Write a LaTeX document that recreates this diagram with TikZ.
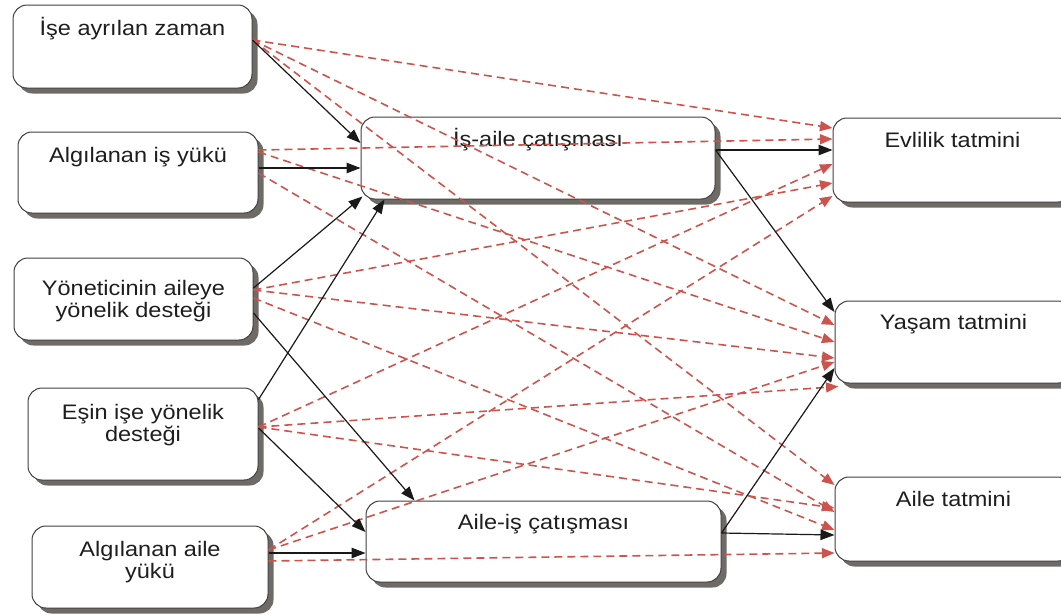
\documentclass[tikz,border=0pt]{standalone}
\usepackage{fontspec}
\setmainfont{Liberation Sans}[FakeStretch=1.12]
\usetikzlibrary{arrows.meta,shadows}
\definecolor{dred}{RGB}{205,84,76}
\definecolor{shad}{RGB}{110,106,102}
\definecolor{txtc}{RGB}{30,30,30}
\begin{document}
\begin{tikzpicture}[x=1pt,y=-1pt,
  box/.style={draw=black!75, line width=1pt, fill=white, rounded corners=14pt,
    inner sep=0pt, drop shadow={shadow xshift=5.5pt, shadow yshift=-5.5pt, fill=shad, opacity=1}},
  txt/.style={font=\fontsize{21}{22}\selectfont, text=txtc, align=center, inner sep=0pt},
  blk/.style={draw=black!90, line width=1.2pt, -{Triangle[length=14pt,width=10.5pt]}},
  rdash/.style={draw=dred, line width=1.6pt, dash pattern=on 8pt off 5pt,
    -{Triangle[length=12.5pt,width=10pt,fill=dred]}}]
\useasboundingbox (0,0) rectangle (1061,614);
% boxes
\node[box, minimum width=239pt, minimum height=83pt] (b1) at (132.5,46.5) {};
\node[box, minimum width=240pt, minimum height=81pt] (b2) at (138,172.5) {};
\node[box, minimum width=239pt, minimum height=82pt] (b3) at (133.5,299) {};
\node[box, minimum width=230pt, minimum height=92pt] (b4) at (143,434) {};
\node[box, minimum width=236pt, minimum height=82pt] (b5) at (150,567) {};
\node[box, minimum width=354pt, minimum height=82pt] (ia) at (538,158) {};
\node[box, minimum width=355pt, minimum height=81pt] (ai) at (543.5,541.5) {};
\node[box, minimum width=239pt, minimum height=84pt] (ev) at (952.5,160) {};
\node[box, minimum width=237pt, minimum height=82pt] (ys) at (953.5,342) {};
\node[box, minimum width=237pt, minimum height=84pt] (at) at (953.5,519) {};
% texts
\node[txt, anchor=base] (b1t) at ([yshift=-31pt]b1.north) {İşe ayrılan zaman};
\node[txt, anchor=base] (b2t) at ([yshift=-31pt]b2.north) {Algılanan iş yükü};
\node[txt] (b3t) at ([yshift=-44pt]b3.north) {Yöneticinin aileye\\yönelik desteği};
\node[txt] (b4t) at ([yshift=-38pt]b4.north) {Eşin işe yönelik\\desteği};
\node[txt] (b5t) at ([yshift=-37pt]b5.north) {Algılanan aile\\yükü};
\node[txt, anchor=base] (iat) at ([yshift=-30pt]ia.north) {İş-aile çatışması};
\node[txt, anchor=base] (ait) at ([yshift=-29pt]ai.north) {Aile-iş çatışması};
\node[txt, anchor=base] (evt) at ([yshift=-30pt]ev.north) {Evlilik tatmini};
\node[txt, anchor=base] (yst) at ([yshift=-29pt]ys.north) {Yaşam tatmini};
\node[txt, anchor=base] (att) at ([yshift=-30pt]at.north) {Aile tatmini};
% red dashed direct paths
\draw[rdash] ([yshift=6.5pt]b1.east) -- ([yshift=32pt]ev.west);
\draw[rdash] ([yshift=6.5pt]b1.east) -- ([yshift=17pt]ys.west);
\draw[rdash] ([yshift=6.5pt]b1.east) -- ([yshift=34pt]at.west);
\draw[rdash] ([yshift=22.5pt]b2.east) -- ([yshift=21pt]ev.west);
\draw[rdash] ([yshift=20.5pt]b2.east) -- ([yshift=0pt]ys.west);
\draw[rdash] ([yshift=-0.5pt]b2.east) -- ([yshift=7pt]at.west);
\draw[rdash] ([yshift=9pt]b3.east) -- ([yshift=-23pt]ev.west);
\draw[rdash] ([yshift=9pt]b3.east) -- ([yshift=-16pt]ys.west);
\draw[rdash] ([yshift=1pt]b3.east) -- ([yshift=-11pt]at.west);
\draw[rdash] ([yshift=7pt]b4.east) -- ([yshift=-4pt]ev.west);
\draw[rdash] ([yshift=7pt]b4.east) -- ([xshift=4pt,yshift=-3pt]ys.south west);
\draw[rdash] ([yshift=7pt]b4.east) -- ([yshift=11pt]at.west);
\draw[rdash] ([yshift=17pt]b5.east) -- ([yshift=-36pt]ev.west);
\draw[rdash] ([yshift=17pt]b5.east) -- ([yshift=-20pt]ys.west);
\draw[rdash] ([yshift=6pt]b5.east) -- ([yshift=-34pt]at.west);
% black solid paths
\draw[blk] ([yshift=6.5pt]b1.east) -- ([yshift=15pt]ia.west);
\draw[blk] ([yshift=4.5pt]b2.east) -- ([yshift=-10pt]ia.west);
\draw[blk] ([yshift=11pt]b3.east) -- ([xshift=2pt,yshift=3pt]ia.south west);
\draw[blk] ([yshift=-12pt]b4.north east) -- ([xshift=24pt]ia.south west);
\draw[blk] ([yshift=-14pt]b3.east) -- ([xshift=49pt]ai.north west);
\draw[blk] ([yshift=6pt]b4.east) -- ([yshift=9.5pt]ai.west);
\draw[blk] ([yshift=14pt]b5.east) -- ([yshift=-11.5pt]ai.west);
\draw[blk] ([yshift=8pt]ia.east) -- ([yshift=10pt]ev.west);
\draw[blk] ([yshift=8pt]ia.east) -- ([yshift=30pt]ys.west);
\draw[blk] ([yshift=8.5pt]ai.east) -- ([yshift=-26pt]ys.west);
\draw[blk] ([yshift=8.5pt]ai.east) -- ([yshift=-16pt]at.west);
\end{tikzpicture}
\end{document}
